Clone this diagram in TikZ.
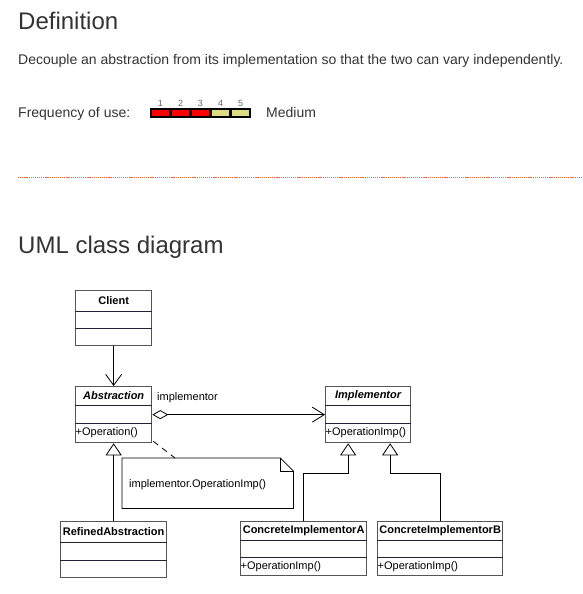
\documentclass[tikz,border=0pt]{standalone}
\usepackage{xcolor}
\usepackage{fontspec}
\setmainfont{Liberation Sans}
\usetikzlibrary{positioning,calc,arrows.meta}

\definecolor{pagetext}{HTML}{333333}
\definecolor{ruleorange}{HTML}{FF6633}
\definecolor{barred}{HTML}{FF0000}
\definecolor{baryellow}{HTML}{DCDC84}
\definecolor{boxline}{HTML}{555555}
\definecolor{sepline}{HTML}{22223A}

\tikzset{
    heading/.style={anchor=base west, inner sep=0, text=pagetext, font=\fontsize{24}{28}\selectfont},
    bodytext/.style={anchor=base west, inner sep=0, text=pagetext, font=\fontsize{14}{17}\selectfont},
    barnum/.style={inner sep=0, text=black!60, font=\fontsize{9}{10}\selectfont},
    classbox/.style={draw=boxline, line width=1.3pt, inner sep=0, anchor=north west},
    classname/.style={inner sep=0, font=\fontsize{11}{13}\selectfont\bfseries},
    classop/.style={inner sep=0, anchor=west, font=\fontsize{11}{13}\selectfont},
    compart/.style={draw=sepline, line width=0.9pt},
    assoc/.style={draw=black, line width=0.8pt, -{Straight Barb[length=11pt, width=16pt]}},
    inherit/.style={draw=black, line width=0.8pt, -{Triangle[open, length=12pt, width=16pt, fill=white]}},
}

\begin{document}
\begin{tikzpicture}[x=1pt, y=-1pt]
    \useasboundingbox (0,0) rectangle (582,594);

    % Page header
    \node[heading] (def-title) at (18,30) {Definition};
    \node[bodytext] (def-text) at (18,65) {Decouple an abstraction from its implementation so that the two can vary independently.};
    \node[bodytext] (freq-label) at (18,117) {Frequency of use:};
    \node[bodytext] (freq-value) at (266,117) {Medium};

    % Frequency bar
    \fill[black] (150,108) rectangle (251,118);
    \foreach \i/\col in {1/barred, 2/barred, 3/barred, 4/baryellow, 5/baryellow} {
        \fill[\col] (131.8+20*\i,109.8) rectangle (149.4+20*\i,116.2);
        \node[barnum] (num-\i) at (140.5+20*\i,103) {\i};
    }

    % Separator
    \draw[ruleorange, line width=1pt, dash pattern=on 1.2pt off 0.9pt] (18,177) -- (582,177);

    \node[heading] (uml-title) at (18,253) {UML class diagram};

    % Classes
    \node[classbox, minimum width=76, minimum height=55] (client) at (75,290) {};
    \node[classname] (client-name) at ($(client.north)+(0,10.5)$) {Client};
    \draw[compart] ($(client.north west)+(0,21)$) -- ($(client.north east)+(0,21)$);
    \draw[compart] ($(client.north west)+(0,38)$) -- ($(client.north east)+(0,38)$);

    \node[classbox, minimum width=76, minimum height=56] (abstraction) at (75,386) {};
    \node[classname, font=\fontsize{11}{13}\selectfont\bfseries\itshape] (abstraction-name) at ($(abstraction.north)+(0,9.5)$) {Abstraction};
    \draw[compart] ($(abstraction.north west)+(0,19.5)$) -- ($(abstraction.north east)+(0,19.5)$);
    \draw[compart] ($(abstraction.north west)+(0,37.5)$) -- ($(abstraction.north east)+(0,37.5)$);
    \node[classop] (abstraction-op) at ($(abstraction.north west)+(0.5,47)$) {+Operation()};

    \node[classbox, minimum width=85, minimum height=56] (implementor) at (325,386) {};
    \node[classname, font=\fontsize{11}{13}\selectfont\bfseries\itshape] (implementor-name) at ($(implementor.north)+(0,9.5)$) {Implementor};
    \draw[compart] ($(implementor.north west)+(0,19.5)$) -- ($(implementor.north east)+(0,19.5)$);
    \draw[compart] ($(implementor.north west)+(0,37.5)$) -- ($(implementor.north east)+(0,37.5)$);
    \node[classop] (implementor-op) at ($(implementor.north west)+(0.5,47)$) {+OperationImp()};

    \node[classbox, minimum width=106, minimum height=56] (refined) at (60,521) {};
    \node[classname] (refined-name) at ($(refined.north)+(0,10.5)$) {RefinedAbstraction};
    \draw[compart] ($(refined.north west)+(0,21)$) -- ($(refined.north east)+(0,21)$);
    \draw[compart] ($(refined.north west)+(0,39)$) -- ($(refined.north east)+(0,39)$);

    \node[classbox, minimum width=126, minimum height=54] (concrete-a) at (240,521) {};
    \node[classname] (concrete-a-name) at ($(concrete-a.north)+(0,9.5)$) {ConcreteImplementorA};
    \draw[compart] ($(concrete-a.north west)+(0,19)$) -- ($(concrete-a.north east)+(0,19)$);
    \draw[compart] ($(concrete-a.north west)+(0,36.5)$) -- ($(concrete-a.north east)+(0,36.5)$);
    \node[classop] (concrete-a-op) at ($(concrete-a.north west)+(0.5,45.5)$) {+OperationImp()};

    \node[classbox, minimum width=125, minimum height=54] (concrete-b) at (377,521) {};
    \node[classname] (concrete-b-name) at ($(concrete-b.north)+(0,9.5)$) {ConcreteImplementorB};
    \draw[compart] ($(concrete-b.north west)+(0,19)$) -- ($(concrete-b.north east)+(0,19)$);
    \draw[compart] ($(concrete-b.north west)+(0,36.5)$) -- ($(concrete-b.north east)+(0,36.5)$);
    \node[classop] (concrete-b-op) at ($(concrete-b.north west)+(0.5,45.5)$) {+OperationImp()};

    % Note
    \node[inner sep=0, minimum width=171, minimum height=50, anchor=north west] (note) at (122,458) {};
    \draw[line width=0.8pt] (note.north west) -- ($(note.north east)+(-13,0)$) -- ($(note.north east)+(0,13)$)
        -- (note.south east) -- (note.south west) -- cycle;
    \draw[line width=0.8pt] ($(note.north east)+(-13,0)$) -- ($(note.north east)+(-13,13)$) -- ($(note.north east)+(0,13)$);
    \node[classop] (note-text) at ($(note.west)+(7,1)$) {implementor.OperationImp()};

    % Connectors
    \draw[assoc] (client) -- (abstraction);
    \draw[line width=0.8pt, {Diamond[open, length=16pt, width=9pt, fill=white]}-{Straight Barb[length=12pt, width=15pt]}]
        (abstraction.east) -- (implementor.west);
    \node[classop] (aggr-label) at (157,398) {implementor};
    \draw[line width=0.8pt, dash pattern=on 6pt off 5pt] ($(abstraction.south east)+(1,-2)$) -- ($(note.north west)+(53,0)$);

    \draw[inherit] (refined) -- (abstraction);
    \coordinate (impl-a) at ($(implementor.south)+(-20,0)$);
    \coordinate (impl-b) at ($(implementor.south)+(22,0)$);
    \draw[inherit] (concrete-a.north) |- ($(impl-a)+(0,30)$) -- (impl-a);
    \draw[inherit] (concrete-b.north) |- ($(impl-b)+(0,30)$) -- (impl-b);
\end{tikzpicture}
\end{document}
